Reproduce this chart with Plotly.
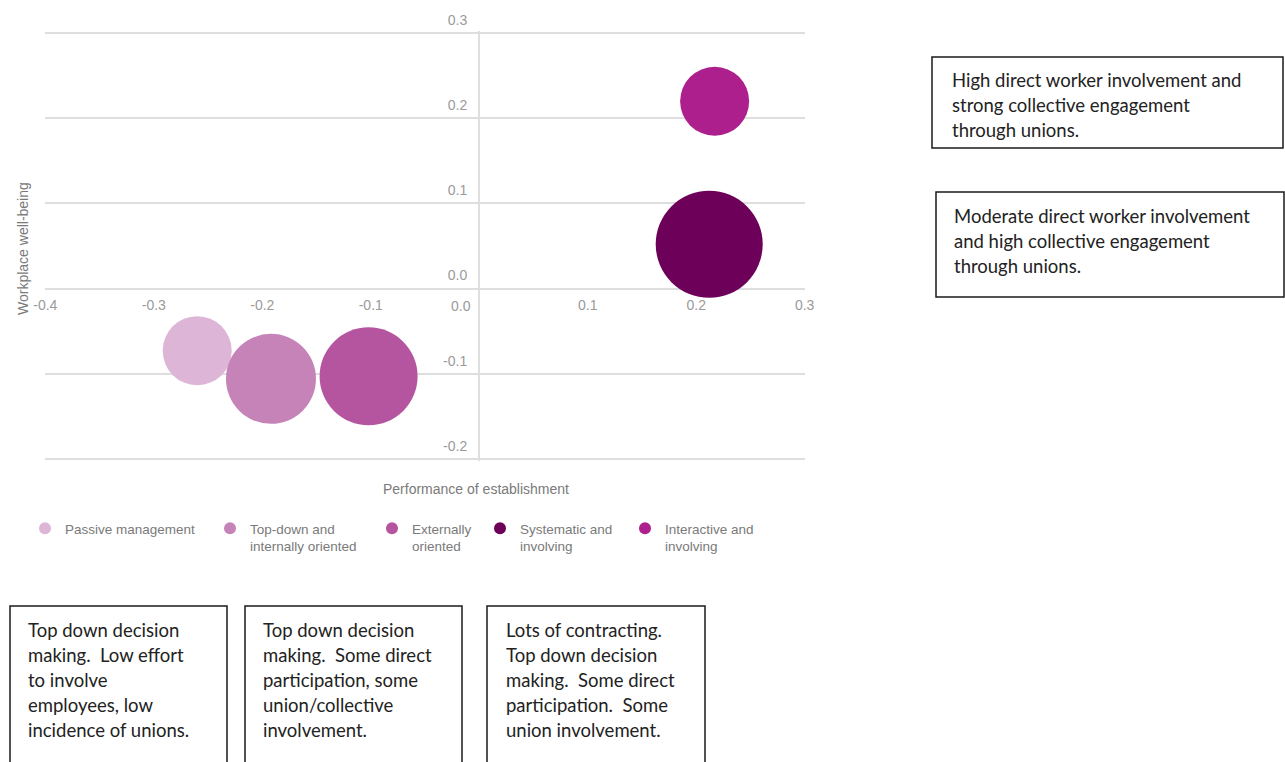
import plotly.graph_objects as go

# ---------------- data ----------------
categories = [
    "Passive management",
    "Top-down and<br>internally oriented",
    "Externally<br>oriented",
    "Systematic and<br>involving",
    "Interactive and<br>involving",
]
performance = [-0.260, -0.192, -0.102, 0.212, 0.217]
wellbeing = [-0.073, -0.106, -0.103, 0.052, 0.220]
bubble_weight = [0.69, 0.90, 0.98, 1.07, 0.69]
colors = ["#dcb5d7", "#c583b8", "#b5559f", "#6d0058", "#ad1f8c"]

x_ticks = [-0.4, -0.3, -0.2, -0.1, 0.1, 0.2, 0.3]
y_ticks = [-0.2, -0.1, 0.0, 0.1, 0.2, 0.3]

right_notes = [
    ["High direct worker involvement and", "strong collective engagement", "through unions."],
    ["Moderate direct worker involvement", "and high collective engagement", "through unions."],
]
bottom_notes = [
    ["Top down decision", "making.  Low effort", "to involve", "employees, low", "incidence of unions."],
    ["Top down decision", "making.  Some direct", "participation, some", "union/collective", "involvement."],
    ["Lots of contracting.", "Top down decision", "making.  Some direct", "participation.  Some", "union involvement."],
]

# ---------------- layout geometry ----------------
W, H = 1285, 762
L, R, T, B = 45, 805, 31, 461   # plot area in pixels (ranges padded slightly)
X_RANGE = [-0.4003, 0.3003]
Y_RANGE = [-0.2025, 0.3025]


def px_x(p):
    return (p - L) / (R - L)


def px_y(p):
    return (B - p) / (B - T)


FONT = "Liberation Sans, Arial, sans-serif"
NOTE_FONT = "Lato, 'Open Sans', sans-serif"
GRID = "#dedede"

fig = go.Figure()

legend_marker_x = [45, 230, 392, 500, 645]
legend_names = ["legend", "legend2", "legend3", "legend4", "legend5"]

for i, cat in enumerate(categories):
    fig.add_trace(
        go.Scatter(
            x=[performance[i]],
            y=[wellbeing[i]],
            mode="markers",
            name=cat,
            legend=legend_names[i],
            marker=dict(
                size=[bubble_weight[i]],
                sizemode="diameter",
                sizeref=0.01,
                color=colors[i],
                line=dict(width=0),
                opacity=1,
            ),
            hoverinfo="skip",
            cliponaxis=False,
        )
    )

layout_legends = {}
for i, ln in enumerate(legend_names):
    layout_legends[ln] = dict(
        x=px_x(legend_marker_x[i] - 20),
        y=px_y(513),
        xanchor="left",
        yanchor="top",
        orientation="v",
        bgcolor="rgba(0,0,0,0)",
        borderwidth=0,
        valign="top",
        itemsizing="constant",
        font=dict(family=FONT, size=13.5, color="#7a7a7a"),
        tracegroupgap=0,
    )

annotations = []
# zero label on x axis, offset left of the vertical axis line
annotations.append(dict(
    x=0, y=0, xref="x", yref="y", text="0.0", showarrow=False,
    xanchor="center", yanchor="top", xshift=-18, yshift=-7,
    font=dict(family=FONT, size=14, color="#9a9a9a"),
))
# axis titles
annotations.append(dict(
    x=px_x(23), y=px_y(249), xref="paper", yref="paper",
    text="Workplace well-being", textangle=-90, showarrow=False,
    xanchor="center", yanchor="middle",
    font=dict(family=FONT, size=14, color="#7a7a7a"),
))
annotations.append(dict(
    x=px_x(476), y=px_y(489), xref="paper", yref="paper",
    text="Performance of establishment", showarrow=False,
    xanchor="center", yanchor="middle",
    font=dict(family=FONT, size=14, color="#7a7a7a"),
))

shapes = []
NOTE_SIZE = 18.5
right_boxes = [(932, 57, 1283, 148, 950, 80), (936, 192, 1284, 297, 952, 216)]
for (x0, y0, x1, y1, tx, ty), lines in zip(right_boxes, right_notes):
    shapes.append(dict(type="rect", xref="paper", yref="paper",
                       x0=px_x(x0), x1=px_x(x1), y0=px_y(y1), y1=px_y(y0),
                       line=dict(color="#1a1a1a", width=1.5), fillcolor="rgba(0,0,0,0)"))
    for k, line in enumerate(lines):
        annotations.append(dict(
            x=px_x(tx), y=px_y(ty + 25 * k), xref="paper", yref="paper",
            text=line, showarrow=False, xanchor="left", yanchor="middle",
            font=dict(family=NOTE_FONT, size=NOTE_SIZE, color="#222222"),
        ))

bottom_boxes = [(10, 606, 227, 770, 26, 630), (245, 606, 462, 770, 261, 630), (487, 606, 705, 770, 504, 630)]
for (x0, y0, x1, y1, tx, ty), lines in zip(bottom_boxes, bottom_notes):
    shapes.append(dict(type="rect", xref="paper", yref="paper",
                       x0=px_x(x0), x1=px_x(x1), y0=px_y(y1), y1=px_y(y0),
                       line=dict(color="#1a1a1a", width=1.5), fillcolor="rgba(0,0,0,0)"))
    for k, line in enumerate(lines):
        annotations.append(dict(
            x=px_x(tx), y=px_y(ty + 25 * k), xref="paper", yref="paper",
            text=line, showarrow=False, xanchor="left", yanchor="middle",
            font=dict(family=NOTE_FONT, size=NOTE_SIZE, color="#222222"),
        ))

fig.update_layout(
    width=W,
    height=H,
    margin=dict(l=L, r=W - R, t=T, b=H - B, pad=0),
    paper_bgcolor="white",
    plot_bgcolor="white",
    showlegend=True,
    font=dict(family=FONT, size=14, color="#8c8c8c"),
    xaxis=dict(
        range=X_RANGE,
        showgrid=False,
        zeroline=True,
        zerolinecolor=GRID,
        zerolinewidth=1.5,
        tickvals=x_ticks,
        ticktext=[f"{v:.1f}" for v in x_ticks],
        tickfont=dict(family=FONT, size=14, color="#9a9a9a"),
        ticks="",
        showline=False,
        anchor="free",
        position=(0 - Y_RANGE[0]) / (Y_RANGE[1] - Y_RANGE[0]),
        ticklabelstandoff=6,
        fixedrange=True,
    ),
    yaxis=dict(
        range=Y_RANGE,
        showgrid=True,
        gridcolor=GRID,
        gridwidth=1.5,
        zeroline=True,
        zerolinecolor=GRID,
        zerolinewidth=1.5,
        tickvals=y_ticks,
        ticktext=[f"{v:.1f}" for v in y_ticks],
        tickfont=dict(family=FONT, size=14, color="#9a9a9a"),
        ticks="",
        showline=False,
        anchor="free",
        position=(0 - X_RANGE[0]) / (X_RANGE[1] - X_RANGE[0]),
        ticklabelstandoff=12,
        ticklabelshift=-13,
        fixedrange=True,
    ),
    annotations=annotations,
    shapes=shapes,
    **layout_legends,
)

fig.write_html("out.html")
